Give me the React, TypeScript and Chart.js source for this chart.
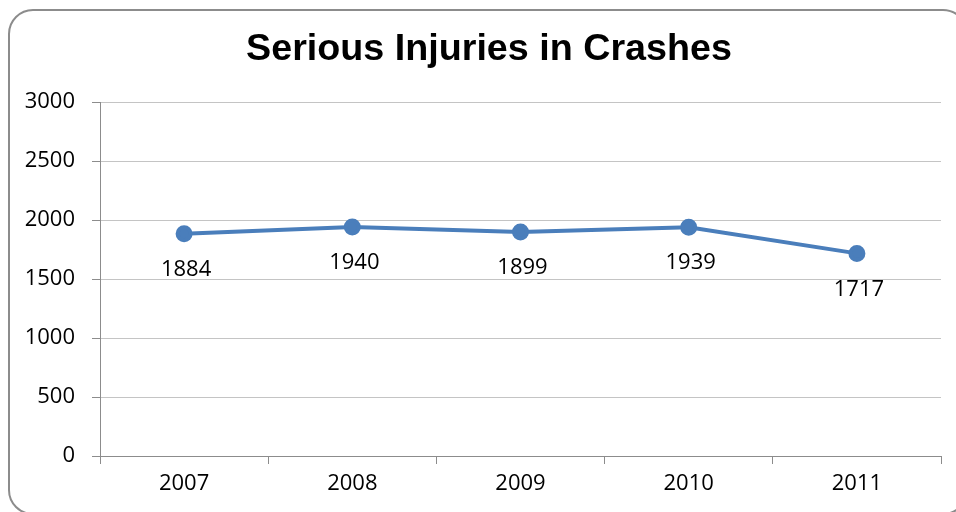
import React, { useEffect, useRef } from "react";
import { Chart, registerables } from "chart.js";

Chart.register(...registerables);

const TITLE = "Serious Injuries in Crashes";
const YEARS = ["2007", "2008", "2009", "2010", "2011"];
const INJURIES = [1884, 1940, 1899, 1939, 1717];
const Y_MIN = 0;
const Y_MAX = 3000;
const Y_STEP = 500;

const LINE_COLOR = "#4a7ebb";
const FONT = "'Open Sans', 'DejaVu Sans', sans-serif";

const frame = {
  id: "frame",
  beforeDraw(chart: any) {
    const ctx = chart.ctx;
    ctx.save();
    ctx.fillStyle = "#ffffff";
    ctx.fillRect(0, 0, chart.width, chart.height);
    ctx.strokeStyle = "#8c8c8c";
    ctx.lineWidth = 2;
    ctx.beginPath();
    (ctx as any).roundRect(9, 10, 958, 504, 24);
    ctx.stroke();
    ctx.fillStyle = "#000000";
    ctx.font = "bold 37.7px 'Liberation Sans', Arial, sans-serif";
    ctx.textAlign = "center";
    ctx.textBaseline = "middle";
    ctx.fillText(TITLE, 489, 50);
    ctx.restore();
  },
};

const valueLabels = {
  id: "valueLabels",
  afterDatasetsDraw(chart: any) {
    const ctx = chart.ctx;
    const meta = chart.getDatasetMeta(0);
    ctx.save();
    ctx.fillStyle = "#000000";
    ctx.font = `22px ${FONT}`;
    ctx.textAlign = "center";
    ctx.textBaseline = "middle";
    meta.data.forEach((pt: any, i: number) => {
      ctx.fillText(String(INJURIES[i]), pt.x + 2, pt.y + 36);
    });
    ctx.restore();
  },
};

export default function App() {
  const ref = useRef<HTMLCanvasElement>(null);
  useEffect(() => {
    if (!ref.current) return;
    const chart = new Chart(ref.current, {
      type: "line",
      data: {
        labels: YEARS,
        datasets: [
          {
            data: INJURIES,
            borderColor: LINE_COLOR,
            backgroundColor: LINE_COLOR,
            borderWidth: 4,
            pointRadius: 6.5,
            pointHoverRadius: 6.5,
            pointBackgroundColor: LINE_COLOR,
            pointBorderColor: LINE_COLOR,
            tension: 0,
          },
        ],
      },
      options: {
        responsive: false,
        animation: false,
        layout: { padding: { left: 0, right: 15, top: 102, bottom: 0 } },
        plugins: {
          legend: { display: false },
          tooltip: { enabled: false },
          title: { display: false },
        },
        scales: {
          x: {
            offset: true,
            grid: {
              offset: true,
              drawOnChartArea: false,
              drawTicks: true,
              tickLength: 8,
              color: "#8c8c8c",
            },
            border: { color: "#8c8c8c", width: 1 },
            ticks: {
              color: "#000000",
              font: { family: FONT, size: 22 },
              padding: 7,
              maxRotation: 0,
            },
            afterFit(scale: any) {
              scale.height = 56;
            },
          },
          y: {
            min: Y_MIN,
            max: Y_MAX,
            grid: {
              color: "#c4c4c4",
              drawTicks: true,
              tickLength: 8,
              tickColor: "#8c8c8c",
            },
            border: { color: "#8c8c8c", width: 1 },
            ticks: {
              stepSize: Y_STEP,
              color: "#000000",
              font: { family: FONT, size: 22 },
              padding: 17,
              callback: (v: any) => String(v),
            },
            afterFit(scale: any) {
              scale.width = 100;
            },
          },
        },
      },
      plugins: [frame, valueLabels],
    });
    return () => chart.destroy();
  }, []);
  return (
    <div style={{ position: "fixed", left: 0, top: 0, width: 956, height: 512, background: "#fff" }}>
      <canvas ref={ref} width={956} height={512} style={{ display: "block" }} />
    </div>
  );
}
